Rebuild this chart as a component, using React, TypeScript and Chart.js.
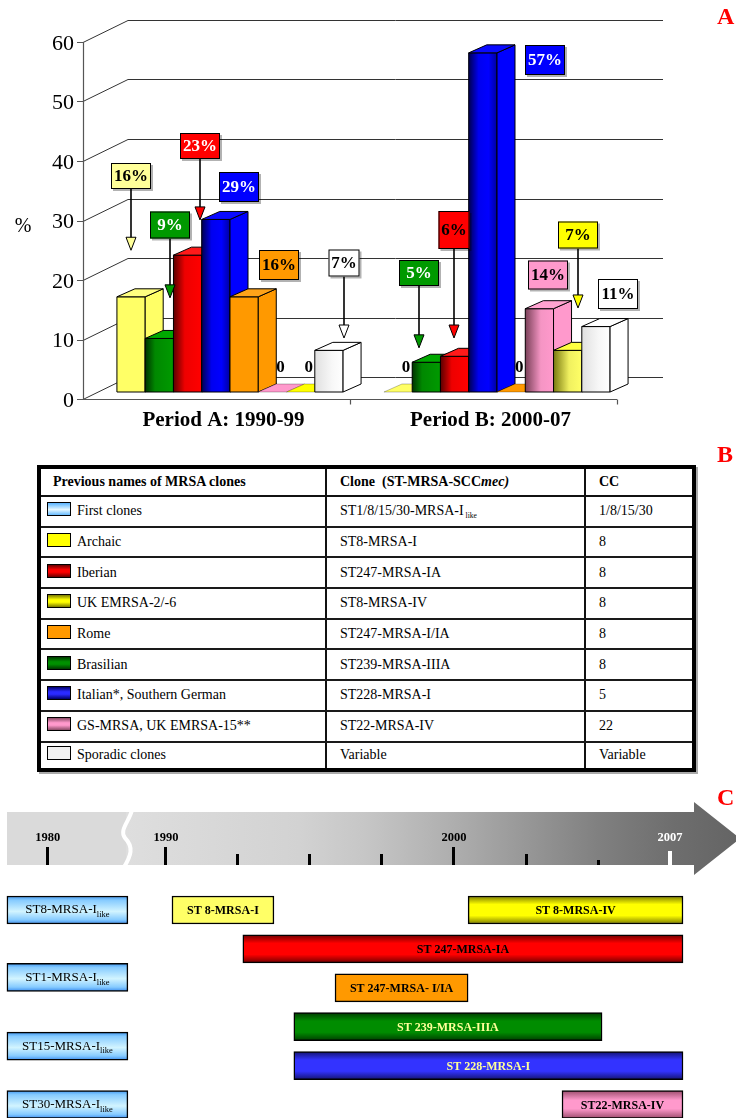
import React, { useEffect, useRef } from 'react';
import { Chart, registerables } from 'chart.js';

Chart.register(...registerables);

// ---------------- Panel A data ----------------
const periods = ['Period A: 1990-99', 'Period B: 2000-07'];
const seriesNames = ['Archaic', 'Brasilian', 'Iberian', 'Italian*, Southern German', 'Rome', 'GS-MRSA, UK EMRSA-15**', 'UK EMRSA-2/-6', 'Sporadic clones'];
const archaicValues = [16, 0];
const brasilianValues = [9, 5];
const iberianValues = [23, 6];
const italianValues = [29, 57];
const romeValues = [16, 0];
const gsMrsaValues = [0, 14];
const ukEmrsaValues = [0, 7];
const sporadicValues = [7, 11];
const percentTicks = [0, 10, 20, 30, 40, 50, 60];
const seriesValues = [archaicValues, brasilianValues, iberianValues, italianValues, romeValues, gsMrsaValues, ukEmrsaValues, sporadicValues];

// ---------------- Panel B data ----------------
const tableHeaders = ['Previous names of MRSA clones', 'Clone  (ST-MRSA-SCC', 'CC'];
const tableNames = ['First clones', 'Archaic', 'Iberian', 'UK EMRSA-2/-6', 'Rome', 'Brasilian', 'Italian*, Southern German', 'GS-MRSA, UK EMRSA-15**', 'Sporadic clones'];
const tableClones = ['ST1/8/15/30-MRSA-I', 'ST8-MRSA-I', 'ST247-MRSA-IA', 'ST8-MRSA-IV', 'ST247-MRSA-I/IA', 'ST239-MRSA-IIIA', 'ST228-MRSA-I', 'ST22-MRSA-IV', 'Variable'];
const tableCloneSubs = [' like', '', '', '', '', '', '', '', ''];
const tableCC = ['1/8/15/30', '8', '8', '8', '8', '8', '5', '22', 'Variable'];

// ---------------- Panel C data ----------------
const timelineTickYears = [1985.9, 1990, 1992.5, 1995, 1997.5, 2000, 2002.5, 2005, 2007.5];
const timelineTickLabels = ['1980', '1990', '', '', '', '2000', '', '', '2007'];
const firstCloneNames = ['ST8-MRSA-I', 'ST1-MRSA-I', 'ST15-MRSA-I', 'ST30-MRSA-I'];
const firstCloneRows = [0, 1.73, 3.5, 5];
const firstCloneStart = [1984.48, 1984.48, 1984.48, 1984.48];
const firstCloneEnd = [1988.68, 1988.68, 1988.68, 1988.68];
const laterCloneNames = ['ST 8-MRSA-I', 'ST 8-MRSA-IV', 'ST 247-MRSA-IA', 'ST 247-MRSA- I/IA', 'ST 239-MRSA-IIIA', 'ST 228-MRSA-I', 'ST22-MRSA-IV'];
const laterCloneRows = [0, 0, 1, 2, 3, 4, 5];
const laterCloneStart = [1990.21, 2000.49, 1992.67, 1995.87, 1994.44, 1994.44, 2003.75];
const laterCloneEnd = [1993.75, 2007.95, 2007.95, 2000.49, 2005.14, 2007.95, 2007.95];

// ---------------- Styles ----------------
const SERIF = '"Liberation Serif", "Times New Roman", serif';
const TX = 13.5, TY = -7;      // bar row depth shift
const DX = 18, DY = -8;        // bar depth
const WX = 45, WY = -22;       // wall depth
const ZERO_DX = 8, ZERO_LEVEL = 5.2;

type Stop = [number, string];
const barStyles: { base: string; front: Stop[]; side: string; top: string; flat: string }[] = [
  { base: '#ffff66', front: [[0, '#ffff66'], [1, '#ffff66']], side: '#ffff66', top: '#ffff80', flat: '#ffff66' },
  { base: '#009900', front: [[0, '#003300'], [0.35, '#008800'], [1, '#009a00']], side: '#009a00', top: '#00a800', flat: '#009900' },
  { base: '#ff0000', front: [[0, '#5a0000'], [0.4, '#ee0000'], [1, '#ff0000']], side: '#ff0000', top: '#ff1a1a', flat: '#ff0000' },
  { base: '#0000ff', front: [[0, '#000050'], [0.35, '#0000f0'], [0.7, '#0000ff'], [1, '#0000a0']], side: '#0000ff', top: '#0a0aff', flat: '#0000ff' },
  { base: '#ff9900', front: [[0, '#ff9900'], [1, '#ff9900']], side: '#ff9900', top: '#ffa319', flat: '#ff9900' },
  { base: '#ff99cc', front: [[0, '#7a4058'], [0.55, '#f595c4'], [1, '#ff99cc']], side: '#ff99cc', top: '#ffa3d1', flat: '#ff99cc' },
  { base: '#ffff66', front: [[0, '#7a7a10'], [0.55, '#f0f060'], [1, '#ffff66']], side: '#ffff66', top: '#ffff40', flat: '#ffff00' },
  { base: '#ffffff', front: [[0, '#e0e0e0'], [0.6, '#f7f7f7'], [1, '#ffffff']], side: '#ffffff', top: '#ffffff', flat: '#ffffff' },
];

// callouts: series index, period index, box x offset (px from bar centre), box centre & arrow tip (percent scale)
const callouts: { ds: number; p: number; dx: number; y: number; tip: number | null; bg: string; fg: string; w?: number; h?: number }[] = [
  { ds: 0, p: 0, dx: 0, y: 37.5, tip: 25.0, bg: '#ffff99', fg: '#000', h: 26 },
  { ds: 1, p: 0, dx: 10.6, y: 29.3, tip: 17.0, bg: '#009900', fg: '#fff', h: 27 },
  { ds: 2, p: 0, dx: 12.4, y: 42.5, tip: 30.1, bg: '#ff0000', fg: '#fff', h: 26 },
  { ds: 3, p: 0, dx: 23, y: 35.6, tip: null, bg: '#0000ff', fg: '#fff', h: 30 },
  { ds: 4, p: 0, dx: 35, y: 22.5, tip: null, bg: '#ff9900', fg: '#000', h: 30 },
  { ds: 7, p: 0, dx: 15, y: 22.8, tip: 10.25, bg: '#ffffff', fg: '#000', w: 31, h: 27 },
  { ds: 1, p: 1, dx: -7.4, y: 21.2, tip: 8.6, bg: '#009900', fg: '#fff', h: 26 },
  { ds: 2, p: 1, dx: -1, y: 28.4, tip: 10.25, bg: '#ff0000', fg: '#000', w: 31, h: 38 },
  { ds: 3, p: 1, dx: 62, y: 57.0, tip: null, bg: '#0000ff', fg: '#fff', h: 30 },
  { ds: 5, p: 1, dx: 8.6, y: 20.9, tip: null, bg: '#ff99cc', fg: '#000', h: 29 },
  { ds: 6, p: 1, dx: 10.4, y: 27.6, tip: 15.3, bg: '#ffff00', fg: '#000', h: 27 },
  { ds: 7, p: 1, dx: 21.6, y: 17.6, tip: null, bg: '#ffffff', fg: '#000', h: 30 },
];

const tableSwatches = [
  'linear-gradient(to bottom, #5ab4ff, #e6f8ff 55%, #66bbff)',
  '#ffff00',
  'linear-gradient(to bottom, #6a0000, #ff0000 40%, #ff0000 60%, #6a0000)',
  'linear-gradient(to bottom, #7a7a00, #ffff00 40%, #ffff00 60%, #7a7a00)',
  '#ff9900',
  'linear-gradient(to bottom, #003a00, #009000 40%, #009000 60%, #003a00)',
  'linear-gradient(to bottom, #00006a, #2a2aff 40%, #2a2aff 60%, #00006a)',
  'linear-gradient(to bottom, #8a4a66, #ff99cc 40%, #ff99cc 60%, #8a4a66)',
  '#f2f2f2',
];

const firstCloneStops: Stop[] = [[0, '#3d95f0'], [0.15, '#86cbff'], [0.55, '#d2f4ff'], [0.85, '#86cbff'], [1, '#3a8cf0']];
const laterCloneStyles: { stops: Stop[]; text: string }[] = [
  { stops: [[0, '#ffff66'], [1, '#ffff66']], text: '#000' },
  { stops: [[0, '#7a7a00'], [0.3, '#ffff00'], [0.7, '#ffff00'], [1, '#7a7a00']], text: '#000' },
  { stops: [[0, '#700000'], [0.3, '#ff0000'], [0.7, '#ff0000'], [1, '#700000']], text: '#000' },
  { stops: [[0, '#ff9900'], [1, '#ff9900']], text: '#000' },
  { stops: [[0, '#003c00'], [0.3, '#008c00'], [0.7, '#008c00'], [1, '#003c00']], text: '#ffff99' },
  { stops: [[0, '#141470'], [0.3, '#3333ff'], [0.7, '#3333ff'], [1, '#141470']], text: '#ffff99' },
  { stops: [[0, '#9a4c6c'], [0.35, '#ff99cc'], [0.65, '#ff99cc'], [1, '#9a4c6c']], text: '#000' },
];
const tickKinds = ['major', 'major', 'minor', 'minor', 'minor', 'major', 'minor', 'tiny', 'end'];

const fin = (v: any) => typeof v === 'number' && isFinite(v);

function poly(ctx: CanvasRenderingContext2D, pts: number[][]) {
  ctx.beginPath();
  ctx.moveTo(pts[0][0], pts[0][1]);
  for (let i = 1; i < pts.length; i++) ctx.lineTo(pts[i][0], pts[i][1]);
  ctx.closePath();
}

function drawBar3D(ctx: CanvasRenderingContext2D, el: any, value: number, st: typeof barStyles[number]) {
  if (!el || !fin(el.x) || !fin(el.y) || !fin(el.base) || !fin(el.width)) return;
  const w = el.width;
  const l = el.x - w / 2, r = el.x + w / 2, t = el.y, b = el.base;
  ctx.save();
  ctx.strokeStyle = '#000';
  ctx.lineJoin = 'round';
  if (!(value > 0)) {
    poly(ctx, [[l, b], [r, b], [r + DX, b + DY], [l + DX, b + DY]]);
    ctx.fillStyle = st.flat;
    ctx.fill();
    ctx.lineWidth = 0.5;
    ctx.strokeStyle = 'rgba(0,0,0,0.5)';
    ctx.stroke();
    ctx.restore();
    return;
  }
  ctx.lineWidth = 1;
  const g = ctx.createLinearGradient(l, 0, r, 0);
  st.front.forEach(([o, c]) => g.addColorStop(o, c));
  ctx.fillStyle = g;
  ctx.fillRect(l, t, w, b - t);
  ctx.strokeRect(l, t, w, b - t);
  poly(ctx, [[r, b], [r + DX, b + DY], [r + DX, t + DY], [r, t]]);
  ctx.fillStyle = st.side;
  ctx.fill();
  ctx.stroke();
  poly(ctx, [[l, t], [r, t], [r + DX, t + DY], [l + DX, t + DY]]);
  ctx.fillStyle = st.top;
  ctx.fill();
  ctx.stroke();
  ctx.restore();
}

const panelAPlugin = {
  id: 'panelA3d',
  beforeDatasetsDraw(chart: any) {
    const { ctx, chartArea: a, scales } = chart;
    const y = scales.y, x = scales.x;
    ctx.save();
    ctx.strokeStyle = '#333';
    ctx.lineWidth = 1;
    for (const t of percentTicks) {
      const py = Math.round(y.getPixelForValue(t)) + 0.5;
      ctx.beginPath();
      ctx.moveTo(a.left, py);
      ctx.lineTo(a.left + WX, py + WY);
      ctx.lineTo(a.right + WX + 1, py + WY);
      ctx.stroke();
    }
    ctx.strokeStyle = '#555';
    ctx.lineWidth = 1.2;
    const y0 = Math.round(y.getPixelForValue(0)) + 0.5;
    ctx.beginPath();
    ctx.moveTo(a.left + 0.5, Math.round(y.getPixelForValue(60)));
    ctx.lineTo(a.left + 0.5, y0);
    ctx.lineTo(a.right, y0);
    ctx.stroke();
    ctx.beginPath();
    for (const t of percentTicks) {
      const py = Math.round(y.getPixelForValue(t)) + 0.5;
      ctx.moveTo(a.left - 6, py);
      ctx.lineTo(a.left, py);
    }
    const catW = (a.right - a.left) / periods.length;
    for (let i = 1; i <= periods.length; i++) {
      const px = Math.round(a.left + catW * i) + 0.5;
      ctx.moveTo(px, y0);
      ctx.lineTo(px, y0 + 5);
    }
    ctx.stroke();
    ctx.fillStyle = '#000';
    ctx.font = `22px ${SERIF}`;
    ctx.textAlign = 'right';
    ctx.textBaseline = 'middle';
    for (const t of percentTicks) ctx.fillText(String(t), a.left - 9, y.getPixelForValue(t) + 2);
    ctx.font = `20px ${SERIF}`;
    ctx.textAlign = 'center';
    ctx.fillText('%', 23, 227);
    ctx.font = `bold 21px ${SERIF}`;
    periods.forEach((p, i) => ctx.fillText(p, x.getPixelForValue(i) + 7, a.bottom + 22));
    ctx.restore();
    ctx.save();
    ctx.translate(TX, TY);
  },
  afterDatasetsDraw(chart: any) {
    const { ctx, scales } = chart;
    const y = scales.y;
    for (let p = 0; p < periods.length; p++) {
      for (let i = 0; i < seriesValues.length; i++) {
        const el = chart.getDatasetMeta(i).data[p];
        drawBar3D(ctx, el, seriesValues[i][p], barStyles[i]);
      }
    }
    ctx.restore();
    ctx.save();
    ctx.textAlign = 'center';
    ctx.textBaseline = 'middle';
    ctx.font = `bold 17px ${SERIF}`;
    ctx.fillStyle = '#000';
    for (let p = 0; p < periods.length; p++) {
      for (let i = 0; i < seriesValues.length; i++) {
        if (seriesValues[i][p] === 0) {
          const el = chart.getDatasetMeta(i).data[p];
          if (el && fin(el.x)) ctx.fillText('0', el.x + TX + ZERO_DX, y.getPixelForValue(ZERO_LEVEL));
        }
      }
    }
    for (const c of callouts) {
      const el = chart.getDatasetMeta(c.ds).data[c.p];
      if (!el || !fin(el.x)) continue;
      const cx = Math.round(el.x + TX + c.dx);
      const cy = Math.round(y.getPixelForValue(c.y));
      const w = c.w ?? 40, h = c.h ?? 28;
      const bx = cx - w / 2, by = cy - h / 2;
      if (c.tip != null) {
        const ty = y.getPixelForValue(c.tip);
        ctx.strokeStyle = '#000';
        ctx.lineWidth = 1.6;
        ctx.beginPath();
        ctx.moveTo(cx, by + h);
        ctx.lineTo(cx, ty - 12);
        ctx.stroke();
        poly(ctx, [[cx - 5, ty - 13], [cx + 5, ty - 13], [cx, ty]]);
        ctx.fillStyle = c.bg;
        ctx.fill();
        ctx.lineWidth = 1;
        ctx.stroke();
      }
      ctx.fillStyle = 'rgba(0,0,0,0.3)';
      ctx.fillRect(bx + 2, by + 2, w, h);
      ctx.fillStyle = c.bg;
      ctx.fillRect(bx, by, w, h);
      ctx.strokeStyle = '#000';
      ctx.lineWidth = 1;
      ctx.strokeRect(bx + 0.5, by + 0.5, w - 1, h - 1);
      ctx.fillStyle = c.fg;
      ctx.font = `bold 17px ${SERIF}`;
      ctx.fillText(`${seriesValues[c.ds][c.p]}%`, cx, cy + 1);
    }
    ctx.restore();
  },
};

const timelineRows = [...firstCloneRows, ...laterCloneRows];
const timelineStops: Stop[][] = [...firstCloneNames.map(() => firstCloneStops), ...laterCloneStyles.map((s) => s.stops)];

const timelinePlugin = {
  id: 'timelineBand',
  beforeDatasetsDraw(chart: any) {
    const { ctx, scales } = chart;
    const x = scales.x;
    const top = 22, bottom = 75;
    ctx.save();
    ctx.fillStyle = '#dadada';
    ctx.fillRect(7, top, 122, bottom - top);
    const g = ctx.createLinearGradient(126, 0, 740, 0);
    g.addColorStop(0, '#dedede');
    g.addColorStop(0.283, '#d2d2d2');
    g.addColorStop(0.39, '#c6c6c6');
    g.addColorStop(0.534, '#aeaeae');
    g.addColorStop(0.653, '#979797');
    g.addColorStop(0.77, '#808080');
    g.addColorStop(0.89, '#6e6e6e');
    g.addColorStop(1, '#646464');
    ctx.fillStyle = g;
    poly(ctx, [[126, top], [694, top], [694, 12], [740, 48.5], [694, 85], [694, bottom], [126, bottom]]);
    ctx.fill();
    ctx.strokeStyle = '#fff';
    ctx.lineWidth = 4;
    ctx.beginPath();
    ctx.moveTo(132, top - 2);
    ctx.bezierCurveTo(129, 32, 119, 40, 125, 48);
    ctx.bezierCurveTo(134, 57, 131, 66, 124, bottom + 2);
    ctx.stroke();
    ctx.textAlign = 'center';
    ctx.textBaseline = 'middle';
    ctx.font = `bold 12.5px ${SERIF}`;
    timelineTickYears.forEach((yr, i) => {
      const px = x.getPixelForValue(yr);
      if (!fin(px)) return;
      const kind = tickKinds[i];
      const t0 = kind === 'major' ? 57 : kind === 'minor' ? 64 : kind === 'tiny' ? 70 : 61;
      ctx.fillStyle = kind === 'end' ? '#fff' : '#000';
      const tw = kind === 'end' ? 4 : 3;
      ctx.fillRect(Math.round(px - tw / 2), t0, tw, bottom - t0);
      if (timelineTickLabels[i]) ctx.fillText(timelineTickLabels[i], px, 48);
    });
    ctx.restore();
  },
  afterDatasetsDraw(chart: any) {
    const { ctx } = chart;
    const meta = chart.getDatasetMeta(0);
    ctx.save();
    ctx.textBaseline = 'middle';
    meta.data.forEach((el: any, i: number) => {
      if (!el || !fin(el.x) || !fin(el.base) || !fin(el.y)) return;
      const cx = (el.x + el.base) / 2;
      const cy = el.y;
      if (i < firstCloneNames.length) {
        const main = firstCloneNames[i];
        ctx.font = `13px ${SERIF}`;
        const w1 = ctx.measureText(main).width;
        ctx.font = `8.5px ${SERIF}`;
        const w2 = ctx.measureText('like').width;
        const sx = cx - (w1 + w2) / 2;
        ctx.fillStyle = '#000';
        ctx.textAlign = 'left';
        ctx.font = `13px ${SERIF}`;
        ctx.fillText(main, sx, cy);
        ctx.font = `8.5px ${SERIF}`;
        ctx.fillText('like', sx + w1, cy + 5);
      } else {
        const k = i - firstCloneNames.length;
        ctx.textAlign = 'center';
        ctx.font = `bold 12px ${SERIF}`;
        ctx.fillStyle = laterCloneStyles[k].text;
        ctx.fillText(laterCloneNames[k], cx, cy + 1);
      }
    });
    ctx.restore();
  },
};

export default function App() {
  const aRef = useRef<HTMLCanvasElement | null>(null);
  const cRef = useRef<HTMLCanvasElement | null>(null);

  useEffect(() => {
    const chartA = new Chart(aRef.current as HTMLCanvasElement, {
      type: 'bar',
      data: {
        labels: periods,
        datasets: seriesValues.map((vals, i) => ({
          label: seriesNames[i],
          data: vals,
          backgroundColor: barStyles[i].base,
          borderWidth: 0,
          clip: false as any,
        })),
      },
      options: {
        animation: false,
        responsive: false,
        maintainAspectRatio: false,
        layout: { padding: { left: 83, right: 119, top: 42, bottom: 41 } },
        plugins: { legend: { display: false }, tooltip: { enabled: false } },
        datasets: { bar: { categoryPercentage: 0.847, barPercentage: 1 } },
        scales: {
          x: { display: false },
          y: { display: false, min: 0, max: 60 },
        },
      } as any,
      plugins: [panelAPlugin],
    });

    const timelineData = [
      ...firstCloneNames.map((_, i) => ({ x: [firstCloneStart[i], firstCloneEnd[i]], y: firstCloneRows[i] })),
      ...laterCloneNames.map((_, i) => ({ x: [laterCloneStart[i], laterCloneEnd[i]], y: laterCloneRows[i] })),
    ];

    const chartC = new Chart(cRef.current as HTMLCanvasElement, {
      type: 'bar',
      data: {
        datasets: [
          {
            label: 'MRSA clones',
            data: timelineData as any,
            backgroundColor: (c: any) => {
              const ch = c.chart;
              const ys = ch.scales && ch.scales.y;
              const stops = timelineStops[c.dataIndex] || [[0, '#ccc'], [1, '#ccc']];
              if (!ys || c.dataIndex == null) return stops[0][1];
              const p = ys.getPixelForValue(timelineRows[c.dataIndex]);
              if (!fin(p)) return stops[Math.floor(stops.length / 2)][1];
              const g = ch.ctx.createLinearGradient(0, p - 14, 0, p + 14);
              stops.forEach(([o, col]: Stop) => g.addColorStop(o, col));
              return g;
            },
            borderColor: '#000',
            borderWidth: 1.5,
            borderSkipped: false,
            barThickness: 28,
            grouped: false,
            clip: false as any,
          },
        ],
      },
      options: {
        indexAxis: 'y',
        animation: false,
        responsive: false,
        maintainAspectRatio: false,
        layout: { padding: 0 },
        plugins: { legend: { display: false }, tooltip: { enabled: false } },
        scales: {
          x: { type: 'linear', display: false, offset: false, min: 1984.24, max: 2009.79 },
          y: { type: 'linear', display: false, offset: false, reverse: true, min: -3.085, max: 5.347 },
        },
      } as any,
      plugins: [timelinePlugin],
    });
    chartC.update();

    return () => {
      chartA.destroy();
      chartC.destroy();
    };
  }, []);

  const letter = (ch: string, top: number): React.ReactNode => (
    <div style={{ position: 'absolute', left: 717, top, font: `bold 24px ${SERIF}`, lineHeight: '24px', color: '#ff0000' }}>{ch}</div>
  );

  const colW = [286, 259, 106];
  const cellBase: React.CSSProperties = { boxSizing: 'border-box', height: '100%', display: 'flex', alignItems: 'center', whiteSpace: 'nowrap' };

  return (
    <div style={{ position: 'absolute', left: 0, top: 0, width: 736, height: 1118, background: '#fff', overflow: 'hidden' }}>
      <canvas ref={aRef} width={736} height={440} style={{ position: 'absolute', left: 0, top: 0, width: 736, height: 440 }} />

      <div
        style={{
          position: 'absolute', left: 37, top: 465, width: 659, height: 307, boxSizing: 'border-box',
          border: '4px solid #000', boxShadow: '2px 2px 0 #aaa', fontFamily: SERIF, fontSize: 14, color: '#000',
          display: 'flex', flexDirection: 'column',
        }}
      >
        <div style={{ height: 28, boxSizing: 'border-box', borderBottom: '2px solid #111', display: 'flex', fontWeight: 'bold' }}>
          <div style={{ ...cellBase, width: colW[0], borderRight: '2px solid #111', paddingLeft: 12 }}>{tableHeaders[0]}</div>
          <div style={{ ...cellBase, width: colW[1], borderRight: '2px solid #111', paddingLeft: 13, whiteSpace: 'pre' }}>
            {tableHeaders[1]}<i>mec)</i>
          </div>
          <div style={{ ...cellBase, width: colW[2], paddingLeft: 13 }}>{tableHeaders[2]}</div>
        </div>
        {tableNames.map((name, i) => (
          <div
            key={name}
            style={{
              height: i < tableNames.length - 1 ? 30.7 : undefined, flex: i < tableNames.length - 1 ? undefined : 1,
              boxSizing: 'border-box', borderBottom: i < tableNames.length - 1 ? '2px solid #1a1a1a' : 'none', display: 'flex',
            }}
          >
            <div style={{ ...cellBase, width: colW[0], borderRight: '2px solid #111', paddingLeft: 6 }}>
              <span style={{ display: 'inline-block', width: 24, height: 14, boxSizing: 'border-box', border: '1px solid #000', background: tableSwatches[i], marginRight: 6, position: 'relative', top: -2 }} />
              {name}
            </div>
            <div style={{ ...cellBase, width: colW[1], borderRight: '2px solid #111', paddingLeft: 13 }}>
              {tableClones[i]}
              {tableCloneSubs[i] ? <span style={{ fontSize: 7.5, position: 'relative', top: 4, whiteSpace: 'pre' }}>{tableCloneSubs[i]}</span> : null}
            </div>
            <div style={{ ...cellBase, width: colW[2], paddingLeft: 13 }}>{tableCC[i]}</div>
          </div>
        ))}
      </div>

      <canvas ref={cRef} width={736} height={328} style={{ position: 'absolute', left: 0, top: 790, width: 736, height: 328 }} />

      {letter('A', 4)}
      {letter('B', 442)}
      {letter('C', 785)}
    </div>
  );
}
